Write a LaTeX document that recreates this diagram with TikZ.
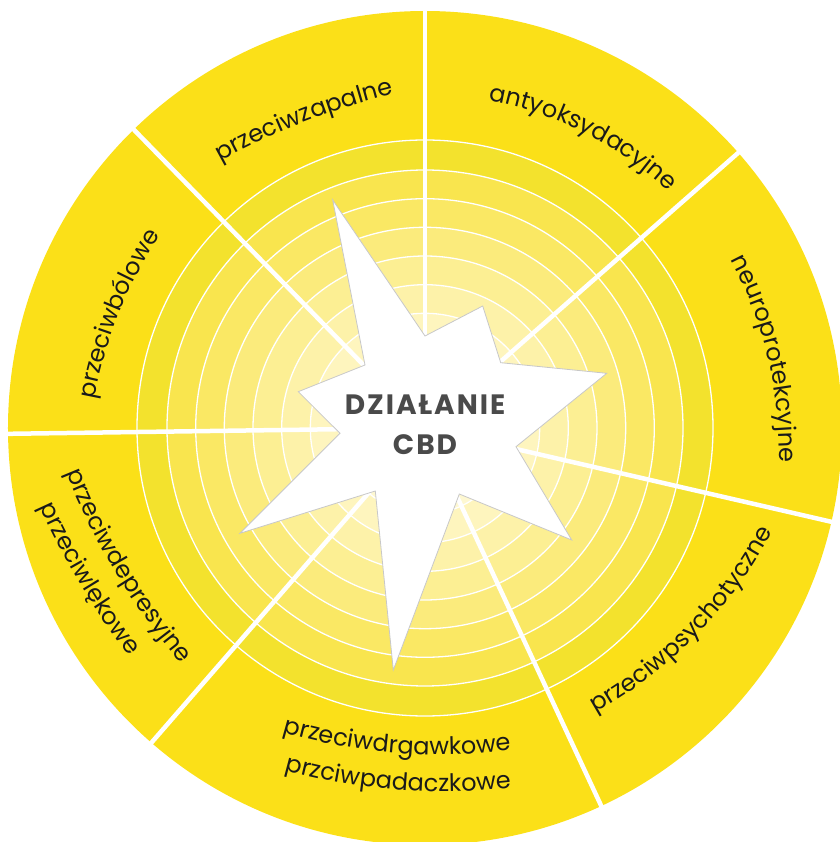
\documentclass[tikz,border=0pt]{standalone}
\usepackage{fontspec}
\setmainfont{Poppins}
\newfontfamily\titlefont{Poppins}[LetterSpace=7]
\usetikzlibrary{decorations.text,calc}
\definecolor{outeryellow}{HTML}{FBE018}
\definecolor{band}{HTML}{F3E22D}
\definecolor{ringA}{HTML}{F9E54E}
\definecolor{ringB}{HTML}{FAE864}
\definecolor{ringC}{HTML}{FBEB7C}
\definecolor{ringD}{HTML}{FCEF93}
\definecolor{ringE}{HTML}{FDF2A9}
\definecolor{ringF}{HTML}{FEF5BE}
\definecolor{ringG}{HTML}{FEF8D1}
\definecolor{ringH}{HTML}{FFFAE0}
\definecolor{ringI}{HTML}{FFFCEC}
\definecolor{txt}{HTML}{1A1A1A}
\definecolor{titlegray}{HTML}{4A4A4A}
\definecolor{starline}{HTML}{C8C8C8}
\newcommand{\lblfont}{\fontsize{24}{28}\selectfont\color{txt}}
% clockwise label: M=(#1,#2) baseline midpoint, #3 normal angle, #4 curvature radius
\newcommand{\cwlabel}[5]{%
  \pgfmathsetmacro\hs{190/#4*180/3.14159}%
  \pgfmathsetmacro\cx{#1-#4*cos(#3)}%
  \pgfmathsetmacro\cy{#2-#4*sin(#3)}%
  \pgfmathsetmacro\sa{#3+\hs}%
  \pgfmathsetmacro\ea{#3-\hs}%
  \pgfmathsetmacro\sx{\cx+#4*cos(\sa)}%
  \pgfmathsetmacro\sy{\cy+#4*sin(\sa)}%
  \path[decorate, decoration={text along path, text align=center, text={|\lblfont|#5}}]
    (\sx,\sy) arc[start angle=\sa, end angle=\ea, radius=#4];
}
\newcommand{\ccwlabel}[5]{%
  \pgfmathsetmacro\hs{190/#4*180/3.14159}%
  \pgfmathsetmacro\cx{#1-#4*cos(#3)}%
  \pgfmathsetmacro\cy{#2-#4*sin(#3)}%
  \pgfmathsetmacro\sa{#3-\hs}%
  \pgfmathsetmacro\ea{#3+\hs}%
  \pgfmathsetmacro\sx{\cx+#4*cos(\sa)}%
  \pgfmathsetmacro\sy{\cy+#4*sin(\sa)}%
  \path[decorate, decoration={text along path, text align=center, text={|\lblfont|#5}}]
    (\sx,\sy) arc[start angle=\sa, end angle=\ea, radius=#4];
}
\tikzset{
  ringline/.style={white, line width=1.3pt},
  sepline/.style={white, line width=4.5pt},
  titletext/.style={font=\titlefont\fontsize{28}{30}\selectfont\bfseries, text=titlegray, anchor=base, inner sep=0pt}
}
\begin{document}
\begin{tikzpicture}[x=1pt,y=1pt]
\useasboundingbox (-425,-414) rectangle (414,428);
\coordinate (c) at (0,0);
% discs
\fill[outeryellow] (c) circle[radius=417];
\fill[band] (c) circle[radius=288];
\fill[ringA] (c) circle[radius=258];
\fill[ringB] (c) circle[radius=229.3];
\fill[ringC] (c) circle[radius=200.7];
\fill[ringD] (c) circle[radius=172];
\fill[ringE] (c) circle[radius=143.3];
\fill[ringF] (c) circle[radius=114.7];
\fill[ringG] (c) circle[radius=86];
\fill[ringH] (c) circle[radius=57.3];
\fill[ringI] (c) circle[radius=28.7];
\foreach \r in {288,258,229.3,200.7,172,143.3,114.7,86,57.3,28.7}
  \draw[ringline] (c) circle[radius=\r];
% separators
\foreach \a [count=\i] in {90,41.3,-13,-65,229,180.8,134.3}
  \coordinate (s\i) at (\a:420);
\foreach \i in {1,...,7}
  \draw[sepline] (c) -- (s\i);
% star
\filldraw[fill=white, draw=starline, line width=0.8pt]
  (-92.3,228) -- (0,92) -- (57.7,122) -- (75.7,65.3) -- (181.7,54.7)
  -- (91,-18.7) -- (146.7,-112) -- (34.3,-66) -- (-31.7,-242)
  -- (-49.7,-63) -- (-185,-105.3) -- (-85,-5.3) -- (-126.7,36.3)
  -- (-60,63) -- cycle;
\node[titletext] (t1) at (0,13) {DZIAŁANIE};
\node[titletext] (t2) at (0,-27) {CBD};
% labels
\cwlabel{-120}{306}{111.3}{700}{przeciwzapalne}
\cwlabel{160}{295}{63}{350}{antyoksydacyjne}
\cwlabel{343}{70}{13.5}{420}{neuroprotekcyjne}
\ccwlabel{272}{-207}{-44.3}{450}{przeciwpsychotyczne}
\ccwlabel{-29}{-325}{-94.5}{550}{przeciwdrgawkowe}
\ccwlabel{-28}{-362}{-94.5}{586}{przciwpadaczkowe}
\ccwlabel{-309}{-145}{211}{700}{przeciwdepresyjne}
\ccwlabel{-345}{-156}{211}{730}{przeciwlękowe}
\cwlabel{-306}{114}{158.3}{450}{przeciwbólowe}
\end{tikzpicture}
\end{document}
